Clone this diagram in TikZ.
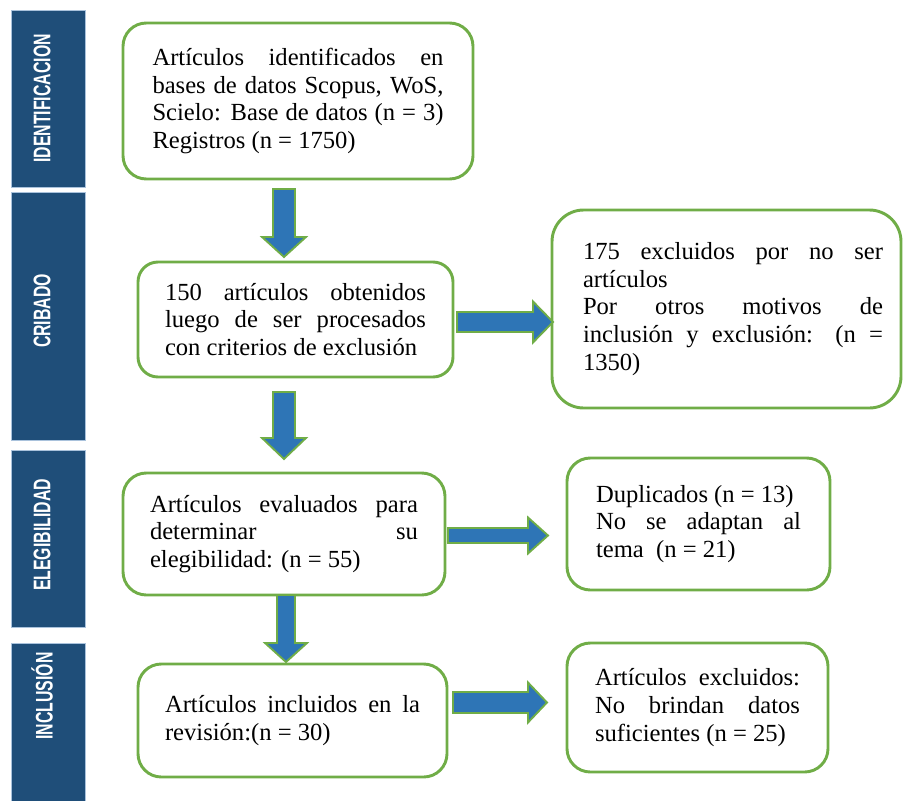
\documentclass[tikz,border=0pt]{standalone}
\usepackage{fontspec}
\setmainfont{Liberation Serif}
\newfontfamily\etapafont{Liberation Sans}
\usepackage{graphicx}
\usepackage{tikz}
\usetikzlibrary{calc}

\definecolor{verde}{HTML}{70AD47}
\definecolor{azul}{HTML}{2E75B6}
\definecolor{marino}{HTML}{1F4E79}
\definecolor{bordebarra}{HTML}{A9C2DC}

\tikzset{
  caja/.style={draw=verde, line width=2.5pt, rounded corners=7mm, fill=white, align=justify,
    inner sep=0pt, outer sep=0pt, font=\fontsize{21}{23.8}\selectfont},
  barra/.style={fill=marino, draw=bordebarra, line width=0.6pt, minimum width=22.2mm, inner sep=0pt},
  etapa/.style={rotate=90, text=white, inner sep=0pt, font=\etapafont\bfseries\fontsize{20.5}{24}\selectfont},
  flechaazul/.style={fill=azul, draw=verde, line width=1.6pt, line join=miter}
}

% block arrow: start, tip, half shaft, half head, head length (px)
\newcommand{\flecha}[5]{%
  \pgfmathsetmacro\fa{#3*0.3}
  \pgfmathsetmacro\fb{#4*0.3}
  \pgfmathsetmacro\fc{#5*0.3}
  \coordinate (fh) at ($(#2)!\fc mm!(#1)$);
  \draw[flechaazul] ($(#1)!\fa mm!90:(#2)$) -- ($(fh)!\fa mm!90:(#2)$) -- ($(fh)!\fb mm!90:(#2)$)
    -- (#2) -- ($(fh)!\fb mm!-90:(#2)$) -- ($(fh)!\fa mm!-90:(#2)$) -- ($(#1)!\fa mm!-90:(#2)$) -- cycle;
}

\begin{document}
\begin{tikzpicture}[x=0.3mm,y=-0.3mm]
            \useasboundingbox (0,0) rectangle (903,801);
            % etapas
            \node[barra, minimum height=53.1mm] (bident) at (48,98.5) {};
            \node[barra, minimum height=74.4mm] (bcrib) at (48,316) {};
            \node[barra, minimum height=53.1mm] (belig) at (48,538.5) {};
            \node[barra, minimum height=49.8mm] (bincl) at (48,726) {};
            \node[etapa] (tident) at (42,98.5) {\scalebox{0.66}[1]{IDENTIFICACION}};
            \node[etapa] (tcrib) at (42,311) {\scalebox{0.66}[1]{CRIBADO}};
            \node[etapa] (telig) at (42,535) {\scalebox{0.66}[1]{ELEGIBILIDAD}};
            \node[etapa] (tincl) at (42,696) {\scalebox{0.66}[1]{INCLUSIÓN}};
            % cajas
            \node[caja, minimum width=105mm, minimum height=46.8mm, text width=87.3mm] (ident) at (298,101)
              {Artículos identificados en\linebreak bases de datos Scopus, WoS,\linebreak Scielo: Base de datos (n = 3)\linebreak Registros (n = 1750)};
            \node[caja, rounded corners=6mm, minimum width=94.5mm, minimum height=34.5mm, text width=78.3mm] (cribado) at (295.5,319.5)
              {150 artículos obtenidos\linebreak luego de ser procesados\linebreak con criterios de exclusión};
            \node[caja, rounded corners=9.5mm, minimum width=104.7mm, minimum height=59.4mm] (excl1) at (726.5,309)
              {\hspace*{3.9mm}\parbox{90mm}{175 excluidos por no ser\linebreak artículos\\ Por otros motivos de\linebreak inclusión y exclusión: (n =\linebreak 1350)}};
            \node[caja, minimum width=96.6mm, minimum height=36.6mm, text width=80.4mm] (elegib) at (284,534)
              {Artículos evaluados para\linebreak determinar su\linebreak elegibilidad: (n = 55)};
            \node[caja, minimum width=78.9mm, minimum height=39.6mm, text width=61.5mm] (excl2) at (698.5,524)
              {Duplicados (n = 13)\\ No se adaptan al\linebreak tema~ (n = 21)};
            \node[caja, minimum width=92.7mm, minimum height=33.9mm, text width=76.5mm] (incl) at (292.5,720.5)
              {Artículos incluidos en la\linebreak revisión:(n = 30)};
            \node[caja, minimum width=78.3mm, minimum height=38.7mm, text width=61.5mm] (excl3) at (697.5,707.5)
              {Artículos excluidos:\linebreak No brindan datos\linebreak suficientes (n = 25)};
            % flechas
            \coordinate (v1a) at ($(ident.south)+(-14,10)$);
            \coordinate (v1b) at ($(cribado.north)+(-11.5,-5)$);
            \coordinate (v2a) at ($(cribado.south)+(-11.5,15)$);
            \coordinate (v2b) at ($(elegib.north)+(0,-14)$);
            \coordinate (v3a) at ($(elegib.south)+(2,0)$);
            \coordinate (v3b) at ($(incl.north)+(-6.5,-2)$);
            \coordinate (h1a) at ($(cribado.east)+(4,2.5)$);
            \coordinate (h1b) at ($(excl1.west)+(1,13)$);
            \coordinate (h2a) at ($(elegib.east)+(3,1.5)$);
            \coordinate (h2b) at ($(excl2.west)+(-19,11.5)$);
            \coordinate (h3a) at ($(incl.east)+(6,-18)$);
            \coordinate (h3b) at ($(excl3.west)+(-20,-5)$);
            \flecha{v1a}{v1b}{11}{22}{20}
            \flecha{v2a}{v2b}{11}{22}{21}
            \flecha{v3a}{v3b}{9}{21}{19}
            \flecha{h1a}{h1b}{10}{20.5}{20}
            \flecha{h2a}{h2b}{7.5}{18}{20}
            \flecha{h3a}{h3b}{10.5}{20}{19}
            % \draw[red] (0,0) grid[step=100] (903,801);
        \end{tikzpicture}
\end{document}
